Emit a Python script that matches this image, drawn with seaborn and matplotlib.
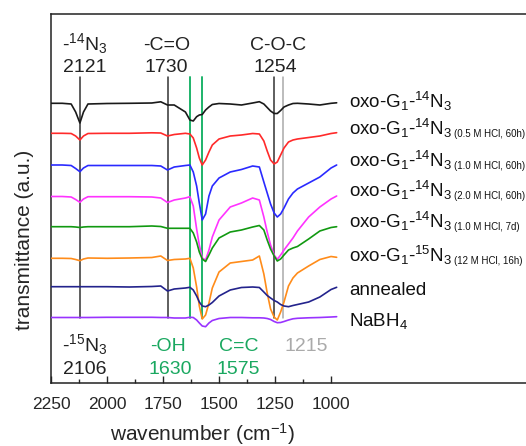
import matplotlib
matplotlib.use("Agg")
import matplotlib.pyplot as plt
import seaborn as sns
import pandas as pd

# ---------------- data ----------------
wavenumber = [2250, 2200, 2160, 2140, 2121, 2105, 2085, 2000, 1900, 1800, 1760, 1730, 1700, 1650,
              1630, 1615, 1600, 1588, 1575, 1560, 1545, 1530, 1500, 1450, 1400, 1350, 1320, 1300,
              1285, 1270, 1254, 1240, 1225, 1210, 1190, 1170, 1150, 1100, 1050, 1000, 975]

t_oxo14 = [29.67, 29.67, 29.6, 28.8, 27.7, 28.8, 29.6, 29.65, 29.67, 29.7, 29.82, 29.5, 29.5, 28.8,
           28.0, 27.9, 28.33, 28.5, 28.55, 29.0, 29.3, 29.55, 29.65, 29.6, 29.5, 29.7, 29.83, 29.6,
           29.25, 28.9, 28.65, 28.65, 28.95, 29.3, 29.5, 29.65, 29.67, 29.6, 29.5, 29.67, 29.72]
t_hcl05 = [26.67, 26.67, 26.65, 26.4, 26.0, 26.4, 26.65, 26.67, 26.67, 26.72, 26.7, 26.4, 26.55, 26.67,
           26.6, 26.2, 25.2, 24.2, 23.5, 24.0, 24.8, 25.5, 26.1, 26.4, 26.5, 26.65, 26.6, 25.9,
           24.9, 24.0, 23.6, 23.8, 24.5, 25.2, 25.8, 26.0, 26.1, 26.25, 26.4, 26.65, 26.73]
t_hcl10 = [23.5, 23.5, 23.45, 23.15, 22.83, 23.2, 23.45, 23.45, 23.45, 23.45, 23.4, 23.0, 23.3, 23.45,
           23.5, 22.8, 21.4, 19.7, 18.0, 18.6, 20.4, 21.4, 22.2, 22.8, 23.05, 23.4, 23.3, 21.8,
           20.7, 19.6, 18.7, 18.3, 18.6, 19.2, 20.1, 20.7, 21.1, 21.7, 22.3, 23.2, 23.5]
t_hcl20 = [20.35, 20.35, 20.3, 20.05, 19.77, 20.1, 20.33, 20.33, 20.33, 20.3, 20.2, 19.75, 20.0, 20.2,
           20.33, 19.4, 17.1, 15.5, 14.2, 14.0, 15.0, 16.3, 18.0, 19.3, 19.7, 20.2, 20.0, 18.3,
           16.8, 15.5, 14.5, 14.07, 14.5, 15.0, 15.6, 16.2, 16.9, 18.3, 19.3, 20.1, 20.4]
t_hcl7d = [17.33, 17.33, 17.33, 17.3, 17.25, 17.3, 17.33, 17.33, 17.33, 17.4, 17.35, 17.17, 17.17, 17.17,
           17.17, 16.7, 15.8, 14.8, 14.1, 13.85, 14.5, 15.2, 16.2, 16.8, 17.0, 17.3, 17.45, 17.0,
           16.0, 15.1, 14.4, 13.9, 14.1, 14.5, 15.0, 15.2, 15.35, 16.1, 16.9, 17.25, 17.33]
t_n15 = [14.17, 14.17, 14.15, 14.05, 13.93, 14.1, 14.2, 14.17, 14.2, 14.25, 14.4, 13.95, 14.05, 14.1,
         14.17, 13.2, 11.3, 9.4, 8.1, 8.5, 9.7, 11.2, 12.8, 13.7, 13.85, 14.0, 14.4, 12.6,
         10.7, 9.1, 8.3, 8.0, 8.8, 9.8, 11.4, 12.2, 12.7, 13.4, 14.05, 14.35, 14.27]
t_annealed = [11.33, 11.33, 11.33, 11.33, 11.33, 11.33, 11.33, 11.33, 11.3, 11.35, 11.4, 10.9, 11.1, 11.2,
              11.27, 11.0, 10.4, 9.8, 9.4, 9.33, 9.5, 9.75, 10.4, 11.0, 11.25, 11.3, 11.25, 10.8,
              10.45, 10.2, 9.95, 9.8, 9.55, 9.4, 9.33, 9.45, 9.55, 9.8, 10.3, 11.05, 11.27]
t_nabh4 = [8.25, 8.25, 8.25, 8.25, 8.25, 8.25, 8.25, 8.27, 8.27, 8.27, 8.25, 8.25, 8.2, 8.2,
           8.27, 8.25, 8.0, 7.7, 7.4, 7.33, 7.7, 7.95, 8.15, 8.25, 8.25, 8.22, 8.22, 8.2,
           8.15, 8.05, 7.85, 7.73, 7.75, 7.85, 8.0, 8.12, 8.17, 8.22, 8.25, 8.3, 8.33]

series_keys = ["oxo14", "hcl05", "hcl10", "hcl20", "hcl7d", "n15", "annealed", "nabh4"]
series_values = [t_oxo14, t_hcl05, t_hcl10, t_hcl20, t_hcl7d, t_n15, t_annealed, t_nabh4]
series_labels = [
    r"oxo-G$_1$-$^{14}$N$_3$",
    r"oxo-G$_1$-$^{14}$N$_3$",
    r"oxo-G$_1$-$^{14}$N$_3$",
    r"oxo-G$_1$-$^{14}$N$_3$",
    r"oxo-G$_1$-$^{14}$N$_3$",
    r"oxo-G$_1$-$^{15}$N$_3$",
    "annealed",
    r"NaBH$_4$",
]
series_conditions = ["", "(0.5 M HCl, 60h)", "(1.0 M HCl, 60h)", "(2.0 M HCl, 60h)",
                     "(1.0 M HCl, 7d)", "(12 M HCl, 16h)", "", ""]
series_colors = ["#1a1a1a", "#ff2a2a", "#2a2aff", "#ff33ff", "#119911", "#ff8c1a", "#23238c", "#9933ff"]
label_baselines = [29.2, 26.5, 23.3, 20.3, 17.2, 13.8, 10.5, 7.4]

# reference lines
ref_lines_wn = [2121, 1730, 1254, 1630, 1575, 1215]
ref_lines_col = ["#333333", "#333333", "#333333", "#1db36a", "#1db36a", "#aaaaaa"]

x_ticks = [2250, 2000, 1750, 1500, 1250, 1000]
x_minor = [2125, 1875, 1625, 1375, 1125]

# ---------------- figure ----------------
sns.set_style("ticks")
plt.rcParams["font.family"] = ["Liberation Sans", "DejaVu Sans"]
plt.rcParams["mathtext.default"] = "regular"

fig = plt.figure(figsize=(5.26, 4.46), dpi=100)
ax = fig.add_axes([51 / 526, 63 / 446, 479 / 526, 369 / 446])

rows = []
for k, vals in zip(series_keys, series_values):
    for w, t in zip(wavenumber, vals):
        rows.append({"wn": w, "T": t, "series": k})
df = pd.DataFrame(rows)

# reference lines (behind curves)
for w, c in zip(ref_lines_wn, ref_lines_col):
    ax.plot([w, w], [8.2, 32.3], color=c, lw=1.4 if c == "#1db36a" else 1.1, zorder=1)

sns.lineplot(data=df, x="wn", y="T", hue="series", hue_order=series_keys,
             palette=series_colors, sort=False, estimator=None, legend=False,
             lw=1.2, ax=ax, zorder=3)

for lab, cond, yb in zip(series_labels, series_conditions, label_baselines):
    t = ax.text(920, yb, lab, fontsize=13.5, color="#111111", ha="left", va="baseline")
    if cond:
        ax.annotate(cond, xy=(1.0, 0.0), xycoords=t, xytext=(1.5, 0.5),
                    textcoords="offset points", fontsize=7, color="#111111",
                    ha="left", va="bottom", annotation_clip=False)

ann_fs = 14
dark = "#222222"
green = "#1aa860"
ax.text(2098, 35.0, r"-$^{14}$N$_3$", fontsize=ann_fs, color=dark, ha="center", va="baseline")
ax.text(2100, 32.8, "2121", fontsize=ann_fs, color=dark, ha="center", va="baseline")
ax.text(1733, 35.0, "-C=O", fontsize=ann_fs, color=dark, ha="center", va="baseline")
ax.text(1735, 32.8, "1730", fontsize=ann_fs, color=dark, ha="center", va="baseline")
ax.text(1238, 35.0, "C-O-C", fontsize=ann_fs, color=dark, ha="center", va="baseline")
ax.text(1250, 32.8, "1254", fontsize=ann_fs, color=dark, ha="center", va="baseline")

ax.text(2098, 4.9, r"-$^{15}$N$_3$", fontsize=ann_fs, color=dark, ha="center", va="baseline")
ax.text(2098, 2.6, "2106", fontsize=ann_fs, color=dark, ha="center", va="baseline")
ax.text(1728, 4.9, "-OH", fontsize=ann_fs, color=green, ha="center", va="baseline")
ax.text(1719, 2.6, "1630", fontsize=ann_fs, color=green, ha="center", va="baseline")
ax.text(1411, 4.9, "C=C", fontsize=ann_fs, color=green, ha="center", va="baseline")
ax.text(1415, 2.6, "1575", fontsize=ann_fs, color=green, ha="center", va="baseline")
ax.text(1112, 4.9, "1215", fontsize=ann_fs, color="#aaaaaa", ha="center", va="baseline")

ax.set_xlim(2250, 112)
ax.set_ylim(1.7, 38.6)
ax.set_xticks(x_ticks)
ax.set_xticks(x_minor, minor=True)
ax.set_yticks([])
ax.tick_params(axis="x", which="major", direction="in", length=5, width=1, labelsize=12.5, pad=10)
ax.tick_params(axis="x", which="minor", direction="in", length=3, width=1)
for s in ax.spines.values():
    s.set_linewidth(1.1)
    s.set_color("#222222")
ax.set_xlabel(r"wavenumber (cm$^{-1}$)", fontsize=15)
ax.set_ylabel("transmittance (a.u.)", fontsize=15)
ax.xaxis.set_label_coords((203 - 51) / 479, -(421 - 383) / 369)
ax.yaxis.set_label_coords((34 - 51) / 479, (383 - 240) / 369)

fig.savefig("out.png", dpi=100)
